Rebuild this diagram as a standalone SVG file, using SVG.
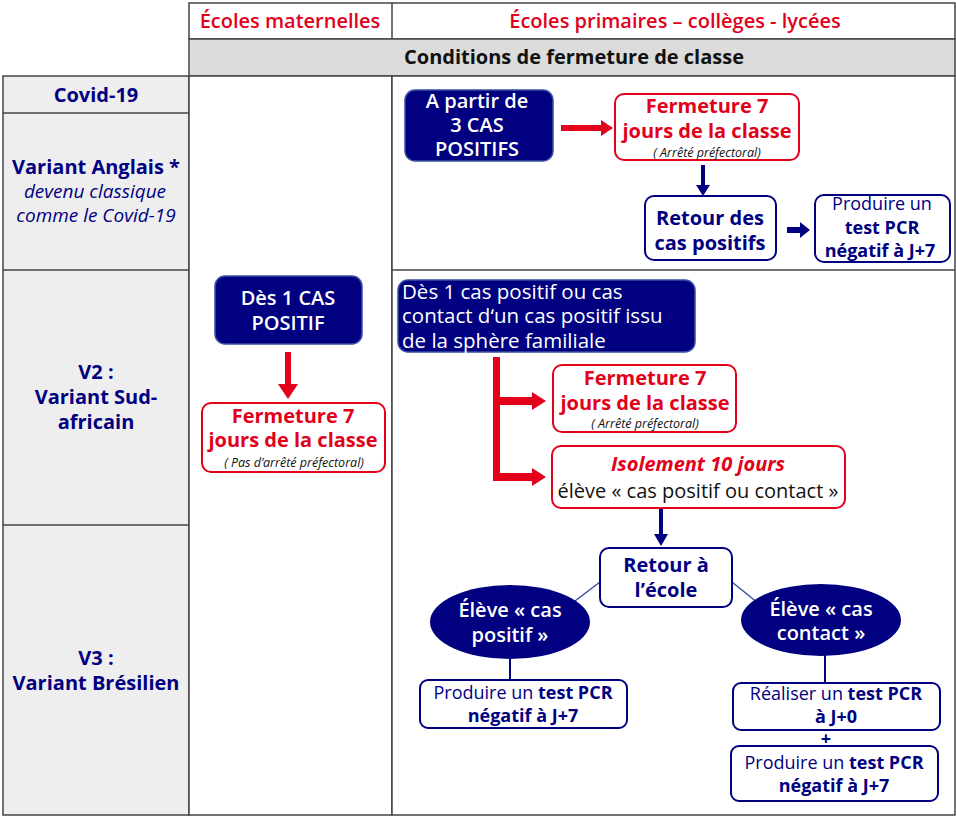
<svg xmlns="http://www.w3.org/2000/svg" width="956" height="817" viewBox="0 0 956 817">
<style>
text{font-family:"Open Sans","Noto Sans","Liberation Sans",sans-serif;}
.hdr{font-size:20px;font-weight:600;fill:#e2001a;text-anchor:middle;}
.cond{font-size:20px;font-weight:700;fill:#111;text-anchor:middle;}
.left{font-size:20px;font-weight:700;fill:#000080;text-anchor:middle;}
.lefti{font-size:19px;font-style:italic;fill:#000080;text-anchor:middle;}
.grid{stroke:#444;stroke-width:1.5;}
.navyfill{fill:#000080;stroke:#3a4fa0;stroke-width:1.5;}
.wt{font-size:20px;font-weight:600;fill:#fff;text-anchor:middle;}
.wl{font-size:20.5px;font-weight:400;fill:#fff;}
.redbox{fill:#fff;stroke:#e2001a;stroke-width:2;}
.navybox{fill:#fff;stroke:#000080;stroke-width:2;}
.rt{font-size:20px;font-weight:700;fill:#e2001a;text-anchor:middle;}
.note{font-size:12.5px;font-style:italic;fill:#111;text-anchor:middle;}
.nt{font-size:20px;font-weight:700;fill:#000080;text-anchor:middle;}
.ns{font-size:18px;font-weight:400;fill:#000080;text-anchor:middle;}
.b{font-weight:700;}
.red{fill:#e2001a;}
.navy{fill:#000080;}
.line{stroke:#000080;stroke-width:2;fill:none;}
.thin{stroke:#3a4fa0;stroke-width:1.5;fill:none;}
</style>

<g id="table">
  <rect x="189" y="3" width="766" height="36" fill="#fff" class="grid"/>
  <line x1="392" y1="3" x2="392" y2="39" class="grid"/>
  <rect x="189" y="39" width="766" height="37" fill="#dcdcdc" class="grid"/>
  <rect x="3" y="76" width="186" height="739" fill="#eeeeee" class="grid"/>
  <line x1="3" y1="113" x2="189" y2="113" class="grid"/>
  <line x1="3" y1="270" x2="189" y2="270" class="grid"/>
  <line x1="3" y1="525" x2="189" y2="525" class="grid"/>
  <rect x="189" y="76" width="203" height="739" fill="#fff" class="grid"/>
  <rect x="392" y="76" width="563" height="739" fill="#fff" class="grid"/>
  <line x1="392" y1="270" x2="955" y2="270" class="grid"/>
</g>

<g id="headers">
  <text class="hdr" x="290" y="28">Écoles maternelles</text>
  <text class="hdr" x="675" y="28">Écoles primaires – collèges - lycées</text>
  <text class="cond" x="574" y="64">Conditions de fermeture de classe</text>
</g>

<g id="row-labels">
  <text class="left" x="96" y="102">Covid-19</text>
  <text class="left" x="96" y="174">Variant Anglais *</text>
  <text class="lefti" x="95" y="198">devenu classique</text>
  <text class="lefti" x="96" y="222">comme le Covid-19</text>
  <text class="left" x="96" y="379">V2 :</text>
  <text class="left" x="96" y="404">Variant Sud-</text>
  <text class="left" x="96" y="429">africain</text>
  <text class="left" x="96" y="665">V3 :</text>
  <text class="left" x="96" y="690">Variant Brésilien</text>
</g>

<g id="connectors">
  <polygon class="red" points="561,125 601,125 601,120 613,128 601,136 601,131 561,131"/>
  <polygon class="navy" points="701,165 705,165 705,185 710,185 703,196 696,185 701,185"/>
  <polygon class="navy" points="787,227 800,227 800,222 810,230 800,238 800,233 787,233"/>
  <polygon class="red" points="285,352 291,352 291,384 298,384 288,399 278,384 285,384"/>
  <polygon class="red" points="493,357 500,357 500,397 532,397 532,392 546,401 532,410 532,405 500,405 500,473 532,473 532,468 546,477 532,486 532,481 493,481"/>
  <polygon class="navy" points="659,509 663,509 663,534 668,534 661,546 654,534 659,534"/>
  <line class="thin" x1="600" y1="582" x2="571" y2="604"/>
  <line class="thin" x1="732" y1="582" x2="758" y2="603"/>
  <line class="line" x1="510" y1="658" x2="510" y2="681"/>
  <line class="line" x1="825" y1="655" x2="825" y2="684"/>
</g>

<g id="n-3cas">
  <rect class="navyfill" x="405" y="90" width="148" height="71" rx="10"/>
  <text class="wt" x="477" y="108">A partir de</text>
  <text class="wt" x="477" y="132">3 CAS</text>
  <text class="wt" x="477" y="156">POSITIFS</text>
</g>

<g id="n-ferm1">
  <rect class="redbox" x="615" y="94" width="184" height="66" rx="9"/>
  <text class="rt" x="707" y="113">Fermeture 7</text>
  <text class="rt" x="707" y="138">jours de la classe</text>
  <text class="note" x="707" y="157">( Arrêté préfectoral)</text>
</g>

<g id="n-retour-pos">
  <rect class="navybox" x="645" y="196" width="131" height="64" rx="9"/>
  <text class="nt" x="710" y="225">Retour des</text>
  <text class="nt" x="710" y="250">cas positifs</text>
</g>

<g id="n-pcr1">
  <rect class="navybox" x="815" y="195" width="135" height="67" rx="9" stroke-width="1.5"/>
  <text class="ns" x="882" y="210">Produire un</text>
  <text class="ns b" x="882" y="234">test PCR</text>
  <text class="ns b" x="880" y="257">négatif à J+7</text>
</g>

<g id="n-mat-1cas">
  <rect class="navyfill" x="215" y="276" width="147" height="68" rx="10"/>
  <text class="wt" x="288" y="305">Dès 1 CAS</text>
  <text class="wt" x="288" y="330">POSITIF</text>
</g>

<g id="n-mat-ferm">
  <rect class="redbox" x="202" y="403" width="183" height="69" rx="9"/>
  <text class="rt" x="293" y="423">Fermeture 7</text>
  <text class="rt" x="293" y="447">jours de la classe</text>
  <text class="note" x="294" y="467">( Pas d’arrêté préfectoral)</text>
</g>

<g id="n-v2-1cas">
  <rect class="navyfill" x="398" y="280" width="297" height="72" rx="10"/>
  <text class="wl" x="402" y="299">Dès 1 cas positif ou cas</text>
  <text class="wl" x="402" y="323">contact d‘un cas positif issu</text>
  <text class="wl" x="402" y="348">de la sphère familiale</text>
</g>

<g id="n-v2-ferm">
  <rect class="redbox" x="553" y="365" width="183" height="67" rx="9"/>
  <text class="rt" x="645" y="385">Fermeture 7</text>
  <text class="rt" x="645" y="410">jours de la classe</text>
  <text class="note" x="645" y="428">( Arrêté préfectoral)</text>
</g>

<g id="n-isolement">
  <rect class="redbox" x="552" y="446" width="293" height="62" rx="9"/>
  <text class="rt" x="698" y="471" font-style="italic">Isolement 10 jours</text>
  <text x="698" y="498" font-size="20" fill="#111" text-anchor="middle">élève « cas positif ou contact »</text>
</g>

<g id="n-retour-ecole">
  <rect class="navybox" x="600" y="548" width="132" height="59" rx="9"/>
  <text class="nt" x="666" y="572">Retour à</text>
  <text class="nt" x="666" y="597">l’école</text>
</g>

<g id="n-eleve-pos">
  <ellipse class="navy" cx="510" cy="622" rx="80" ry="37"/>
  <text class="wt" x="510" y="617">Élève « cas</text>
  <text class="wt" x="510" y="642">positif »</text>
</g>

<g id="n-eleve-contact">
  <ellipse class="navy" cx="821" cy="620" rx="80" ry="36"/>
  <text class="wt" x="821" y="616">Élève « cas</text>
  <text class="wt" x="821" y="640">contact »</text>
</g>

<g id="n-pcr-pos">
  <rect class="navybox" x="420" y="680" width="207" height="48" rx="8" stroke-width="1.5"/>
  <text class="ns" x="523" y="699">Produire un <tspan class="b">test PCR</tspan></text>
  <text class="ns b" x="523" y="722">négatif à J+7</text>
</g>

<g id="n-pcr-j0">
  <rect class="navybox" x="733" y="683" width="207" height="47" rx="8" stroke-width="1.5"/>
  <text class="ns" x="836" y="700">Réaliser un <tspan class="b">test PCR</tspan></text>
  <text class="ns b" x="836" y="723">à J+0</text>
</g>

<g id="plus">
  <text x="826" y="745" font-size="18" font-weight="700" fill="#000080" text-anchor="middle">+</text>
</g>

<g id="n-pcr-j7">
  <rect class="navybox" x="731" y="746" width="207" height="55" rx="8" stroke-width="1.5"/>
  <text class="ns" x="834" y="769">Produire un <tspan class="b">test PCR</tspan></text>
  <text class="ns b" x="834" y="792">négatif à J+7</text>
</g>
</svg>
